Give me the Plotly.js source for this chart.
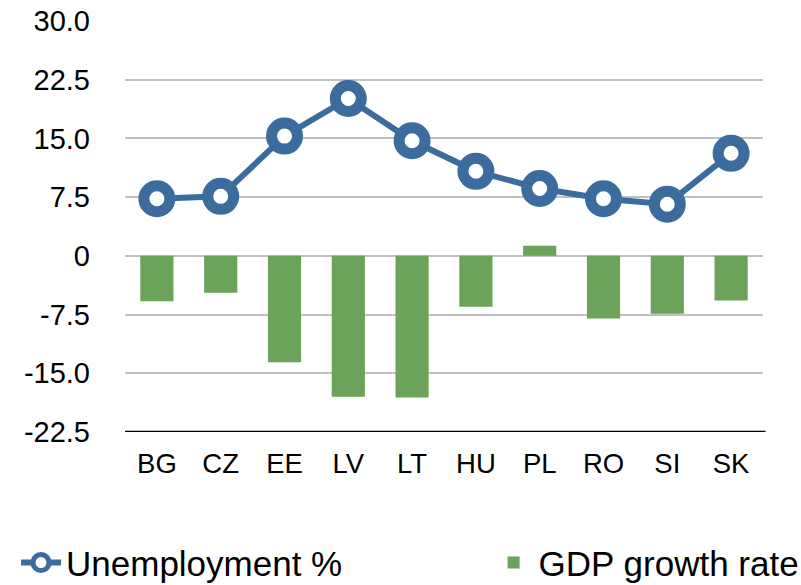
<!DOCTYPE html>
<html>
<head>
<meta charset="utf-8">
<script src="https://cdn.plot.ly/plotly-3.0.1.min.js"></script>
<style>html,body{margin:0;padding:0;background:#fff;}#chart{width:801px;height:585px;}</style>
</head>
<body>
<div id="chart"></div>
<script>
const categories = ["BG","CZ","EE","LV","LT","HU","PL","RO","SI","SK"];
const unemployment = [7.3, 7.6, 15.3, 20.1, 14.7, 10.8, 8.6, 7.3, 6.6, 13.1];
const gdpGrowth = [-5.8, -4.7, -13.6, -18.0, -18.1, -6.5, 1.3, -8.0, -7.4, -5.7];
const tickValues = [-22.5, -15, -7.5, 0, 7.5, 15, 22.5, 30];
const tickLabels = ["-22.5", "-15.0", "-7.5", "0", "7.5", "15.0", "22.5", "30.0"];

const data = [
  {
    type: "scatter", mode: "lines+markers", name: "Unemployment %",
    x: categories, y: unemployment, legend: "legend",
    line: {color: "#3c6b9d", width: 6},
    marker: {symbol: "circle", size: 26, color: "#ffffff", line: {color: "#3c6b9d", width: 11}}
  },
  {
    type: "bar", name: "GDP growth rate",
    x: categories, y: gdpGrowth, legend: "legend2",
    marker: {color: "#6ca35a"}
  }
];

const legendBase = {
  orientation: "h", xref: "container", yref: "container",
  xanchor: "left", y: 0.038, yanchor: "middle",
  font: {size: 35}, itemwidth: 40, bgcolor: "rgba(0,0,0,0)"
};

const layout = {
  width: 801, height: 585,
  margin: {l: 125, r: 38, t: 21, b: 153},
  paper_bgcolor: "#ffffff", plot_bgcolor: "#ffffff",
  font: {family: "Liberation Sans, Arial, sans-serif", size: 28, color: "#000000"},
  bargap: 0.48,
  showlegend: true,
  xaxis: {
    type: "category", range: [-0.5, categories.length - 0.5],
    showgrid: false, zeroline: false,
    showline: false, ticks: "", tickfont: {size: 27.5},
    ticklabelstandoff: 12, automargin: false
  },
  yaxis: {
    range: [-22.5, 30], tickvals: tickValues, ticktext: tickLabels,
    showgrid: true, gridcolor: "#c0c0c0", gridwidth: 2,
    zeroline: false, showline: false, ticks: "",
    tickfont: {size: 29}, ticklabelstandoff: 34, automargin: false
  },
  shapes: [
    {type: "line", xref: "paper", yref: "y", x0: 0, x1: 1.004, y0: -22.5, y1: -22.5, line: {color: "#000000", width: 2.5}}
  ],
  legend: Object.assign({}, legendBase, {x: 0.02}),
  legend2: Object.assign({}, legendBase, {x: 0.61})
};

Plotly.newPlot("chart", data, layout, {displayModeBar: false, staticPlot: true});
</script>
</body>
</html>
